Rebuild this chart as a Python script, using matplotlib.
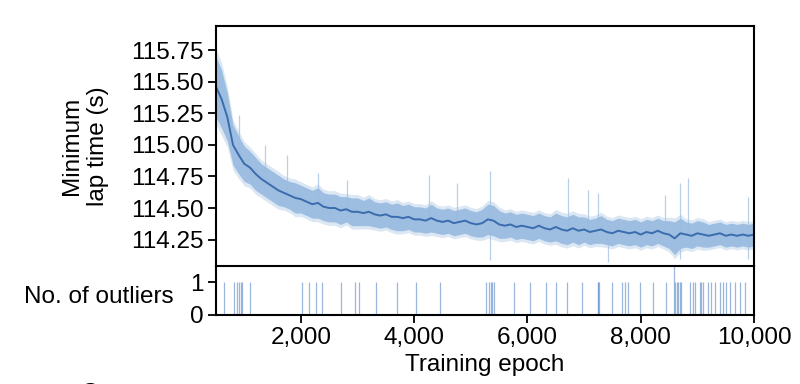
import numpy as np
import matplotlib
matplotlib.use('Agg')
import matplotlib.pyplot as plt
from matplotlib.ticker import FuncFormatter

plt.rcParams['font.family'] = ['Liberation Sans', 'DejaVu Sans']

# mean minimum lap time, read every 100 epochs from 500 to 10,000
epochs = list(range(500, 10001, 100))
lap_mean = [115.46, 115.36, 115.22, 115.00, 114.92, 114.85, 114.82, 114.77, 114.73, 114.70,
            114.67, 114.64, 114.62, 114.60, 114.58, 114.57, 114.55, 114.53, 114.54, 114.51,
            114.50, 114.50, 114.48, 114.49, 114.47, 114.47, 114.46, 114.47, 114.45, 114.44,
            114.45, 114.43, 114.43, 114.42, 114.43, 114.41, 114.41, 114.40, 114.42, 114.40,
            114.39, 114.40, 114.38, 114.39, 114.40, 114.38, 114.37, 114.38, 114.41, 114.40,
            114.37, 114.36, 114.37, 114.35, 114.36, 114.35, 114.34, 114.36, 114.34, 114.33,
            114.35, 114.33, 114.32, 114.34, 114.32, 114.33, 114.31, 114.32, 114.33, 114.31,
            114.30, 114.32, 114.31, 114.30, 114.31, 114.29, 114.31, 114.30, 114.32, 114.30,
            114.29, 114.26, 114.30, 114.29, 114.28, 114.30, 114.29, 114.28, 114.29, 114.30,
            114.28, 114.29, 114.28, 114.29, 114.28, 114.29]
# half width of the shaded band
lap_spread = [0.24, 0.23, 0.19, 0.16, 0.15, 0.14, 0.13, 0.13, 0.12, 0.12,
              0.12, 0.12, 0.11, 0.11, 0.12, 0.11, 0.11, 0.11, 0.12, 0.11,
              0.11, 0.11, 0.11, 0.10, 0.11, 0.11, 0.10, 0.11, 0.10, 0.10,
              0.10, 0.10, 0.11, 0.10, 0.10, 0.10, 0.10, 0.10, 0.11, 0.10,
              0.10, 0.10, 0.10, 0.10, 0.10, 0.10, 0.10, 0.11, 0.12, 0.12,
              0.11, 0.10, 0.10, 0.10, 0.10, 0.10, 0.10, 0.10, 0.10, 0.10,
              0.11, 0.11, 0.11, 0.11, 0.11, 0.10, 0.10, 0.10, 0.11, 0.10,
              0.10, 0.10, 0.10, 0.10, 0.10, 0.10, 0.10, 0.10, 0.10, 0.10,
              0.11, 0.13, 0.12, 0.10, 0.10, 0.10, 0.10, 0.09, 0.09, 0.09,
              0.09, 0.09, 0.09, 0.09, 0.09, 0.09]

# single noisy runs sticking out of the band
spike_epochs = [900, 1363, 1750, 2300, 2815, 4265, 4760, 5330, 6708, 7062, 7240, 8425, 8690, 8832, 9894,
                5345, 7416, 8690, 9894]
spike_tops = [115.24, 115.00, 114.92, 114.78, 114.72, 114.76, 114.70, 114.79, 114.74, 114.64, 114.62,
              114.60, 114.70, 114.74, 114.59,
              114.09, 114.07, 114.10, 114.10]

# epochs with an outlier (count 1, one with 2)
outlier_epochs = [637, 826, 873, 903, 933, 961, 1103, 2018, 2142, 2260, 2377, 2703, 2950, 3027,
                  3327, 3694, 4030, 4448, 5269, 5328, 5354, 5381, 5407, 5770, 6053, 6319, 6508,
                  6703, 6968, 7240, 7252, 7265, 7499, 7676, 7717, 7775, 7988, 8218, 8448, 8584,
                  8611, 8637, 8664, 8690, 8708, 8867, 8915, 8961, 9045, 9071, 9092, 9191, 9239,
                  9305, 9404, 9451, 9510, 9575, 9669, 9758, 9841]
outlier_counts = [1] * len(outlier_epochs)
outlier_counts[outlier_epochs.index(8584)] = 2

band_color = '#9bbce0'
line_color = '#3a6cae'

fig = plt.figure(figsize=(8, 3.84), dpi=100)
ax2 = fig.add_axes([0.27, 0.180, 0.6725, 0.127])
ax = fig.add_axes([0.27, 0.307, 0.6725, 0.625], sharex=ax2)
ax2.patch.set_visible(False)

x = np.array(epochs)
m = np.array(lap_mean)
s = np.array(lap_spread)
ax.fill_between(x, m - 1.25 * s, m + 1.25 * s, color=band_color, alpha=0.35, lw=0)
ax.fill_between(x, m - s, m + s, color=band_color, alpha=0.95, lw=0)
for e, t in zip(spike_epochs, spike_tops):
    base = np.interp(e, x, m)
    ax.vlines(e, base, t, color=band_color, lw=0.9, alpha=0.7)
ax.plot(x, m, color=line_color, lw=1.4)

ax.set_xlim(500, 10000)
ax.set_ylim(114.04, 115.94)
ax.set_yticks(np.arange(114.25, 115.76, 0.25))
ax.yaxis.set_major_formatter(FuncFormatter(lambda v, p: '%.2f' % v))
ax.tick_params(axis='x', bottom=False, labelbottom=False)
ax.tick_params(axis='y', direction='out', length=6, width=1.3, labelsize=17.5, pad=3)
ax.set_ylabel('Minimum\nlap time (s)', fontsize=17.5, labelpad=16)
for sp in ax.spines.values():
    sp.set_linewidth(1.5)

ax2.vlines(outlier_epochs, 0, outlier_counts, color='#6f97cc', lw=0.9, alpha=0.7)
ax2.set_ylim(0, 1.5)
ax2.set_yticks([0, 1])
ax2.set_xticks([2000, 4000, 6000, 8000, 10000])
ax2.xaxis.set_major_formatter(FuncFormatter(lambda v, p: '{:,}'.format(int(v))))
ax2.tick_params(direction='out', length=6, width=1.3, labelsize=17.5, pad=3)
ax2.spines['top'].set_visible(False)
for sp in ax2.spines.values():
    sp.set_linewidth(1.5)
ax2.set_xlabel('Training epoch', fontsize=17.5, labelpad=3)
fig.text(174 / 800, 1 - 297 / 384, 'No. of outliers', fontsize=17.5, ha='right', va='center')

# top of the next panel letter, cut off by the figure edge
fig.text(90 / 800, 1 - 376 / 384, 'c', fontsize=26, fontweight='bold', ha='center', va='top')

fig.savefig('out.png', dpi=100)
